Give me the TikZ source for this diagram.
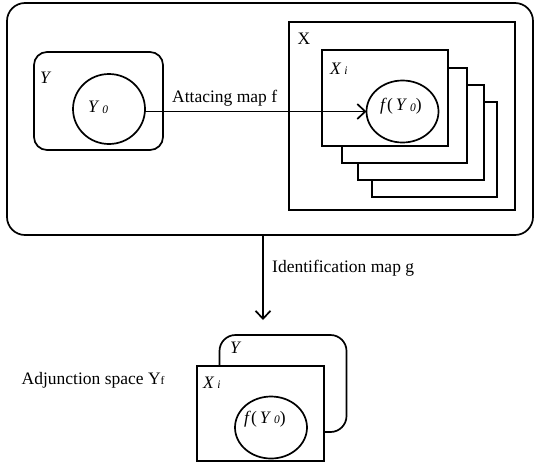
\documentclass[tikz,border=0pt]{standalone}
\usepackage{fontspec}
\setmainfont{Liberation Serif}
\usetikzlibrary{shapes.geometric,arrows.meta}
\newcommand\lowsub[1]{\raisebox{-0.6pt}{\fontsize{11.5}{12}\selectfont #1}}
\tikzset{
  shp/.style={draw, line width=1.7pt, inner sep=0pt, outer sep=0pt},
  boxshape/.style={shp, rectangle, fill=white, minimum width=#1},
  ell/.style={shp, ellipse, fill=white},
  lbl/.style={anchor=base west, inner sep=0pt, font=\fontsize{17.5}{19}\selectfont},
  arr/.style={line width=1.7pt, -{Straight Barb[length=8pt,width=15pt,line width=1.7pt]}}
}
\begin{document}
\begin{tikzpicture}[x=1pt,y=-1pt]
\useasboundingbox (0,0) rectangle (534,464);
% top part
\node[boxshape=526pt, minimum height=232pt, rounded corners=18pt] (outer) at (270,119) {};
\node[boxshape=129pt, minimum height=98pt, rounded corners=13pt] (ybox) at (98.5,101) {};
\node[ell, minimum width=72pt, minimum height=70pt] (y0) at (109,109) {};
\node[boxshape=226pt, minimum height=188pt] (xbox) at (402,116) {};
\node[boxshape=125pt, minimum height=95pt] (s4) at (434.5,149.5) {};
\node[boxshape=126pt, minimum height=95pt] (s3) at (421,132.5) {};
\node[boxshape=125pt, minimum height=95pt] (s2) at (404.5,115.5) {};
\node[boxshape=126pt, minimum height=96pt] (xi) at (385,98) {};
\node[ell, minimum width=72pt, minimum height=62pt] (fy0) at (402.5,111.5) {};
% labels top
\node[lbl] (ylab) at (40,83) {\textit{Y}};
\node[lbl] (y0lab) at (88,112.5) {\textit{Y}\,\lowsub{\textit{0}}};
\node[lbl] (xlab) at (297.5,44) {X};
\node[lbl] (xilab) at (330,74) {\textit{X}\,\lowsub{\textit{i}}};
\node[lbl] (fy0lab) at (380,110.5) {\textit{f}(\,\textit{Y}\,\lowsub{\textit{0}})};
\node[lbl] (flab) at (172,102.3) {Attacing map f};
% attaching map arrow
\draw[arr] (y0.east |- fy0.west) -- (fy0.west);
% identification map
\coordinate (gtip) at (263,320);
\draw[arr] (outer.south -| gtip) -- (gtip);
\node[lbl] (glab) at (272,272) {Identification map g};
% bottom part
\node[boxshape=127pt, minimum height=97pt, rounded corners=16pt] (by) at (283,383.5) {};
\node[boxshape=127pt, minimum height=95pt] (bxi) at (260.7,413.3) {};
\node[ell, minimum width=72pt, minimum height=62pt] (bfy0) at (271,427.5) {};
\node[lbl] (bylab) at (230,353) {\textit{Y}};
\node[lbl] (bxilab) at (203,388) {\textit{X}\,\lowsub{\textit{i}}};
\node[lbl] (bfy0lab) at (244,423) {\textit{f}(\,\textit{Y}\,\lowsub{\textit{0}})};
\node[lbl] (adjlab) at (21.5,384) {Adjunction space Y\lowsub{f}};
\end{tikzpicture}
\end{document}
